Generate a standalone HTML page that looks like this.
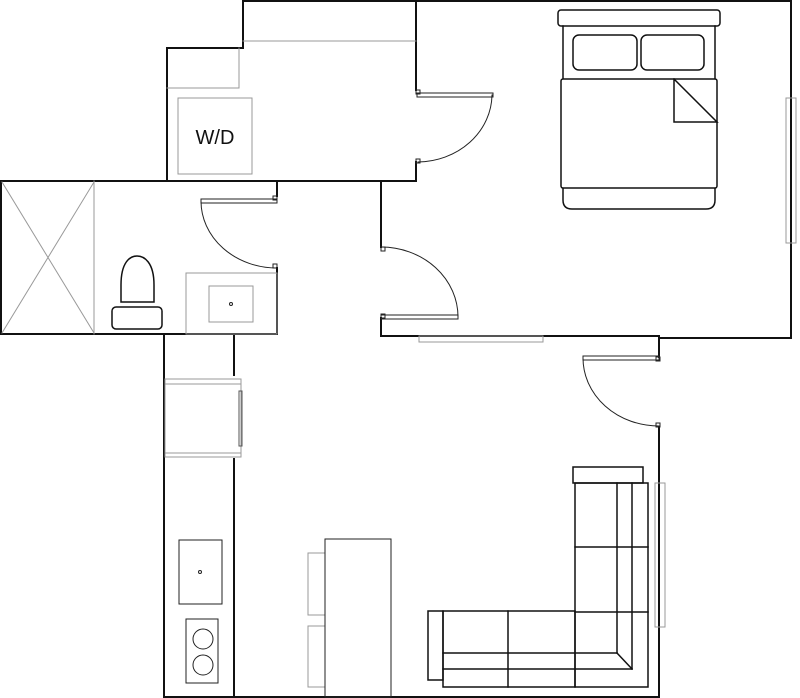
<!DOCTYPE html>
<html><head><meta charset="utf-8"><style>html,body{margin:0;padding:0;background:#fff}svg{display:block}</style></head>
<body>
<svg width="800" height="698" viewBox="0 0 800 698" xmlns="http://www.w3.org/2000/svg" fill="none" stroke-linecap="square">
<!-- walls -->
<g stroke="#111" stroke-width="2">
<polyline points="167,181 167,48 243,48 243,1 791,1 791,338 659,338 659,357"/>
<line x1="383" y1="336" x2="659" y2="336"/>
<line x1="659" y1="427" x2="659" y2="697"/>
<line x1="164" y1="697" x2="659" y2="697"/>
<line x1="164" y1="334" x2="164" y2="697"/>
<line x1="234" y1="334" x2="234" y2="375"/>
<line x1="234" y1="459" x2="234" y2="697"/>
<line x1="0" y1="181" x2="416" y2="181"/>
<line x1="1" y1="181" x2="1" y2="334"/>
<line x1="0" y1="334" x2="277" y2="334"/>
<line x1="277" y1="181" x2="277" y2="196"/>
<line x1="277" y1="268" x2="277" y2="334"/>
<line x1="416" y1="1" x2="416" y2="90"/>
<line x1="416" y1="162" x2="416" y2="181"/>
<line x1="381" y1="181" x2="381" y2="247"/>
<line x1="381" y1="318" x2="381" y2="336"/>
</g>
<!-- gray lines -->
<g stroke="#999" stroke-width="1">
<line x1="243" y1="41" x2="416" y2="41"/>
<polyline points="167,88 239,88 239,48"/>
<rect x="178" y="98" width="74" height="76"/>
<line x1="94" y1="181" x2="94" y2="334"/>
<line x1="2" y1="182" x2="94" y2="333"/>
<line x1="94" y1="182" x2="2" y2="333"/>
<rect x="186" y="273" width="91" height="61"/>
<rect x="209" y="286" width="44" height="36"/>
<rect x="419" y="336" width="124" height="6"/>
<rect x="786" y="98" width="10" height="145"/>
<rect x="655" y="483" width="10" height="144"/>
<rect x="165" y="379" width="76" height="78"/>
<line x1="165" y1="384" x2="241" y2="384"/>
<line x1="165" y1="453" x2="241" y2="453"/>
<rect x="239" y="391" width="3" height="55" stroke="#555"/>
<rect x="308" y="553" width="17" height="62"/>
<rect x="308" y="626" width="17" height="61"/>
</g>
<text x="215" y="144" font-family="Liberation Sans, sans-serif" font-size="20" fill="#111" text-anchor="middle">W/D</text>
<!-- doors -->
<g stroke="#222" stroke-width="1">
<rect x="201" y="199" width="76" height="4"/>
<path d="M201,201 A76,67 0 0 0 277,268"/>
<rect x="273" y="196" width="4" height="4"/><rect x="273" y="264" width="4" height="4"/>
<rect x="417" y="93" width="76" height="4"/>
<path d="M492,95 A75,68 0 0 1 418,162"/>
<rect x="416" y="90" width="4" height="4"/><rect x="416" y="159" width="4" height="4"/>
<rect x="381" y="315" width="77" height="4"/>
<path d="M381,247 A77,70 0 0 1 458,317"/>
<rect x="381" y="247" width="4" height="4"/><rect x="381" y="314" width="4" height="4"/>
<rect x="583" y="356" width="76" height="4"/>
<path d="M583,358 A76,68 0 0 0 659,426"/>
<rect x="656" y="357" width="4" height="4"/><rect x="656" y="423" width="4" height="4"/>
<!-- fixtures -->
<rect x="179" y="540" width="43" height="64"/>
<circle cx="200" cy="572" r="1.5"/>
<rect x="186" y="619" width="32" height="64"/>
<circle cx="203" cy="639" r="10"/><circle cx="203" cy="665" r="10"/>
<rect x="325" y="539" width="66" height="158"/>
<circle cx="231" cy="304" r="1.5"/>
</g>
<!-- toilet -->
<g stroke="#111" stroke-width="1.5">
<path d="M121,302 L121,285 C121,262 130,256 137,256 C144,256 154,262 154,285 L154,302 Z"/>
<rect x="112" y="307" width="50" height="22" rx="4"/>
</g>
<!-- bed -->
<g stroke="#111" stroke-width="1.5">
<rect x="558" y="10" width="162" height="16" rx="3"/>
<path d="M563,26 L563,200 Q563,209 572,209 L706,209 Q715,209 715,200 L715,26"/>
<rect x="573" y="35" width="64" height="35" rx="6"/>
<rect x="641" y="35" width="63" height="35" rx="6"/>
<rect x="561" y="79" width="156" height="109" rx="2" fill="#fff"/>
<polyline points="674,79 674,122 717,122 674,79"/>
</g>
<!-- sofa -->
<g stroke="#111" stroke-width="1.5">
<rect x="573" y="467" width="70" height="16"/>
<rect x="575" y="483" width="73" height="204"/>
<line x1="617" y1="483" x2="617" y2="653"/>
<line x1="632" y1="483" x2="632" y2="669"/>
<line x1="575" y1="547" x2="648" y2="547"/>
<line x1="575" y1="612" x2="648" y2="612"/>
<line x1="617" y1="653" x2="632" y2="669"/>
<rect x="428" y="611" width="15" height="69"/>
<rect x="443" y="611" width="132" height="76"/>
<line x1="443" y1="653" x2="617" y2="653"/>
<line x1="443" y1="669" x2="632" y2="669"/>
<line x1="508" y1="611" x2="508" y2="687"/>
</g>
</svg>
</body></html>
